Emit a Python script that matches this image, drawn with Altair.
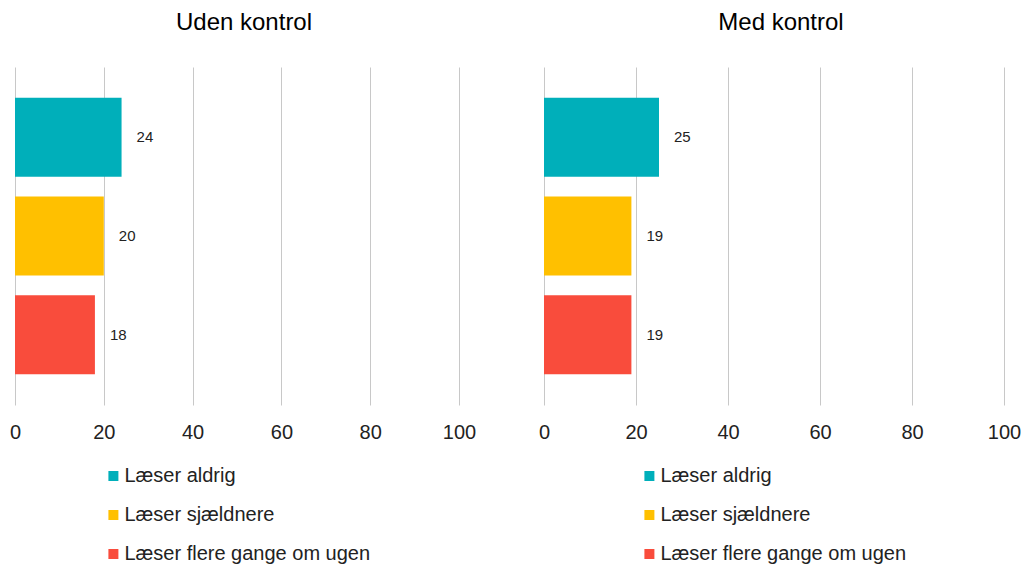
import altair as alt
import pandas as pd

categories = ["Læser aldrig", "Læser sjældnere", "Læser flere gange om ugen"]
uden_values = [24, 20, 18]
med_values = [25, 19, 19]
colors = ["#00AFBA", "#FFC000", "#F94C3C"]
ticks = [0, 20, 40, 60, 80, 100]

FONT = "Liberation Sans"


def panel(title, values, width, legend_x):
    df = pd.DataFrame({"kategori": categories, "værdi": values})
    y = alt.Y("kategori:N", sort=categories, axis=None,
              scale=alt.Scale(paddingInner=0.2, paddingOuter=0.31))
    x = alt.X("værdi:Q", scale=alt.Scale(domain=[0, 100], nice=False),
              axis=alt.Axis(values=ticks, title=None, domain=False, ticks=False,
                            grid=True, gridColor="#C8C8C8", gridWidth=1,
                            labelFontSize=20, labelColor="#222222", labelFont=FONT,
                            labelPadding=17, labelFlush=False, labelBound=False))
    bars = alt.Chart(df).mark_bar().encode(
        x=x, y=y,
        color=alt.Color("kategori:N", sort=categories,
                        scale=alt.Scale(domain=categories, range=colors),
                        legend=alt.Legend(title=None, orient="none",
                                          legendX=legend_x, legendY=399,
                                          direction="vertical", padding=0,
                                          symbolType="square", symbolSize=100,
                                          symbolStrokeWidth=0,
                                          labelFontSize=20, labelFont=FONT,
                                          labelColor="#222222", rowPadding=19,
                                          labelOffset=1, labelLimit=0)),
    )
    labels = alt.Chart(df).mark_text(align="left", dx=15, fontSize=15,
                                     font=FONT, color="#222222").encode(
        x="værdi:Q", y=alt.Y("kategori:N", sort=categories), text="værdi:Q"
    )
    return alt.layer(bars, labels).properties(
        width=width, height=338,
        title=alt.TitleParams(title, fontSize=24, font=FONT, fontWeight="normal",
                              color="#000000", offset=32, dx=7),
    )


left = panel("Uden kontrol", uden_values, 444, 88.4)
right = panel("Med kontrol", med_values, 460, 95.4)

chart = alt.hconcat(left, right, spacing=62).resolve_scale(color="independent").properties(
    padding={"left": 1, "top": 3, "right": 0, "bottom": 0}
).configure_view(stroke=None)

chart.save("out.html", embed_options={"renderer": "svg", "actions": False})
